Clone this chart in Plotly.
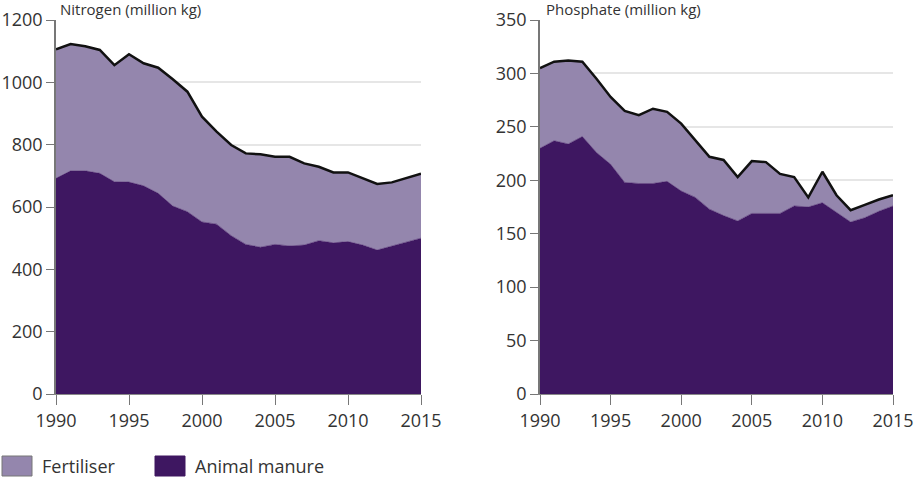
import plotly.graph_objects as go

years = list(range(1990, 2016))

# Nitrogen (million kg)
n_manure = [692, 716, 716, 708, 681, 680, 668, 644, 603, 585, 552, 545, 508, 480, 471, 480,
            475, 478, 492, 485, 489, 478, 462, 475, 488, 500]
n_fertiliser = [414, 407, 400, 396, 374, 410, 393, 403, 407, 385, 338, 297, 291, 292, 298, 281,
                286, 262, 237, 226, 222, 214, 212, 204, 205, 207]

# Phosphate (million kg)
p_manure = [230, 237, 234, 241, 226, 215, 198, 197, 197, 199, 190, 184, 173, 167, 162, 169,
            169, 169, 176, 175, 179, 170, 161, 165, 171, 176]
p_fertiliser = [75, 74, 78, 70, 69, 63, 67, 64, 70, 65, 63, 53, 49, 52, 41, 49,
                48, 37, 27, 9, 29, 16, 11, 12, 11, 10]

n_ticks = [0, 200, 400, 600, 800, 1000, 1200]
p_ticks = [0, 50, 100, 150, 200, 250, 300, 350]
x_ticks = [1990, 1995, 2000, 2005, 2010, 2015]

DARK = "#3e1761"
LIGHT = "#9486ad"
FONT = "Open Sans"
TXT = "#333333"

fig = go.Figure()
for xa, ya, man, fert, sg in [("x", "y", n_manure, n_fertiliser, "n"),
                              ("x2", "y2", p_manure, p_fertiliser, "p")]:
    fig.add_trace(go.Scatter(x=years, y=man, xaxis=xa, yaxis=ya, stackgroup=sg,
                             mode="lines", line=dict(color=DARK, width=0.5),
                             fillcolor=DARK, name="Animal manure", showlegend=False))
    fig.add_trace(go.Scatter(x=years, y=fert, xaxis=xa, yaxis=ya, stackgroup=sg,
                             mode="lines", line=dict(color="#111111", width=2.5),
                             fillcolor=LIGHT, name="Fertiliser", showlegend=False))

W, H = 919, 485
ML, MR, MT, MB = 56, 0, 20, 91
pw = W - ML - MR
ph = H - MT - MB


def px(x):
    return (x - ML) / pw


def py(y):
    return (H - MB - y) / ph


common_x = dict(tickvals=x_ticks, ticks="outside", ticklen=10, tickcolor="#777777",
                showline=True, linecolor="#888888", linewidth=1, showgrid=False,
                zeroline=False, tickfont=dict(family=FONT, size=18, color=TXT))
common_y = dict(ticks="outside", ticklen=8, tickcolor="#777777",
                showline=True, linecolor="#777777", linewidth=1.5,
                showgrid=True, gridcolor="#e6e6e6", gridwidth=1.5, zeroline=False,
                tickfont=dict(family=FONT, size=18, color=TXT))

fig.update_layout(
    width=W, height=H,
    margin=dict(l=ML, r=MR, t=MT, b=MB, autoexpand=False),
    paper_bgcolor="white", plot_bgcolor="white",
    showlegend=False,
    xaxis=dict(domain=[0, px(421)], range=[1990, 2015], anchor="y", **common_x),
    yaxis=dict(domain=[0, 1], range=[0, 1200], tickvals=n_ticks, anchor="x", **common_y),
    xaxis2=dict(domain=[px(540), px(893)], range=[1990, 2015], anchor="y2", **common_x),
    yaxis2=dict(domain=[0, 1], range=[0, 350], tickvals=p_ticks, anchor="x2", **common_y),
)

# panel titles
fig.add_annotation(text="Nitrogen (million kg)", xref="paper", yref="paper",
                   x=px(58), y=py(9), xanchor="left", yanchor="middle", showarrow=False,
                   font=dict(family=FONT, size=15, color=TXT))
fig.add_annotation(text="Phosphate (million kg)", xref="paper", yref="paper",
                   x=px(544), y=py(9), xanchor="left", yanchor="middle", showarrow=False,
                   font=dict(family=FONT, size=15, color=TXT))

# legend
fig.add_shape(type="rect", xref="paper", yref="paper", x0=px(2), x1=px(32),
              y0=py(456), y1=py(476), fillcolor=LIGHT, line=dict(color="#777777", width=1))
fig.add_shape(type="rect", xref="paper", yref="paper", x0=px(155), x1=px(185),
              y0=py(456), y1=py(476), fillcolor=DARK, line=dict(color=DARK, width=1))
fig.add_annotation(text="Fertiliser", xref="paper", yref="paper", x=px(40), y=py(466),
                   xanchor="left", yanchor="middle", showarrow=False,
                   font=dict(family=FONT, size=18, color=TXT))
fig.add_annotation(text="Animal manure", xref="paper", yref="paper", x=px(193), y=py(466),
                   xanchor="left", yanchor="middle", showarrow=False,
                   font=dict(family=FONT, size=18, color=TXT))

fig.write_html("out.html")
